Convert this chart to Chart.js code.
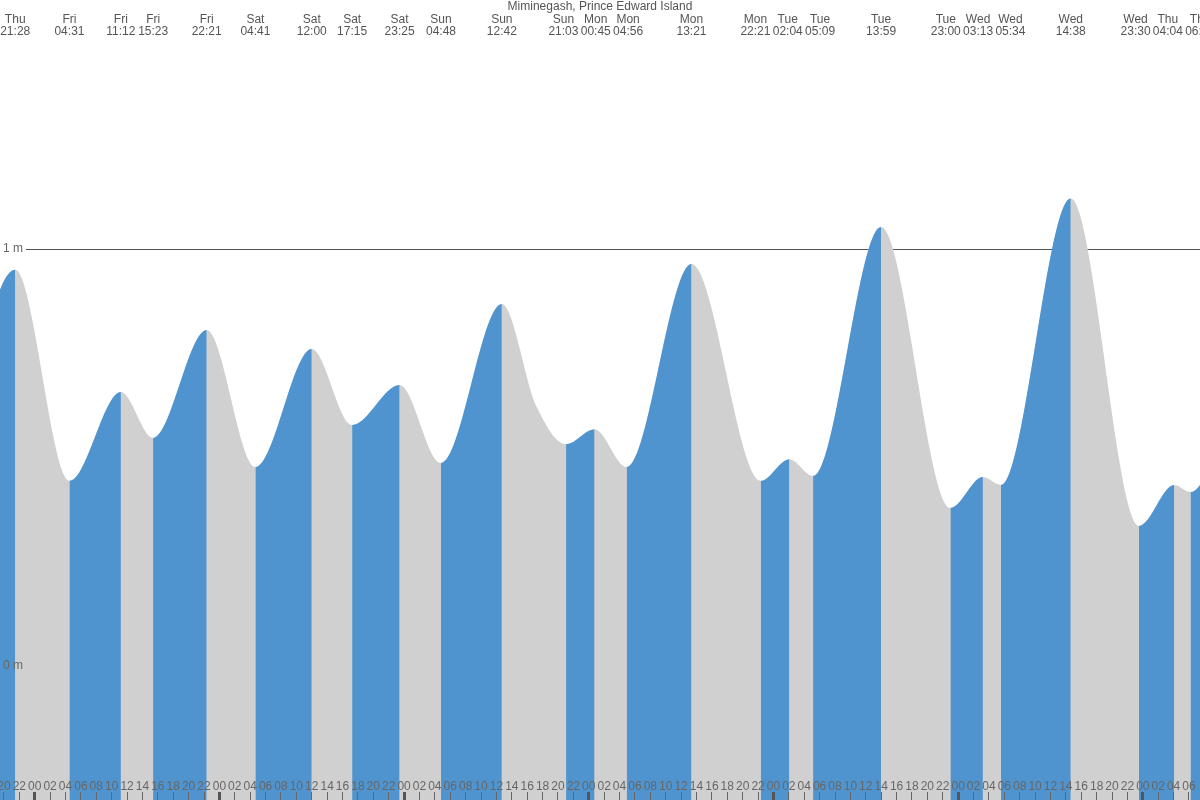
<!DOCTYPE html>
<html>
<head>
<meta charset="utf-8">
<title>Miminegash, Prince Edward Island</title>
<script src="https://cdn.jsdelivr.net/npm/chart.js@4/dist/chart.umd.min.js"></script>
<style>
  html, body { margin: 0; padding: 0; background: #fff; }
  #wrap { width: 1200px; height: 800px; }
</style>
</head>
<body>
<div id="wrap"><canvas id="tideChart" width="1200" height="800"></canvas></div>
<script>
// 高低潮时刻（顶部标注），首尾各多一个画面外的点让曲线延伸到边缘
const TIDE_TIMES = [
  'Thu 12:30', 'Thu 21:28', 'Fri 04:31', 'Fri 11:12', 'Fri 15:23', 'Fri 22:21',
  'Sat 04:41', 'Sat 12:00', 'Sat 17:15', 'Sat 23:25', 'Sun 04:48', 'Sun 12:42',
  'Sun 21:03', 'Mon 00:45', 'Mon 04:56', 'Mon 13:21', 'Mon 22:21', 'Tue 02:04',
  'Tue 05:09', 'Tue 13:59', 'Tue 23:00', 'Wed 03:13', 'Wed 05:34', 'Wed 14:38',
  'Wed 23:30', 'Thu 04:04', 'Thu 06:12', 'Thu 13:30'
];
// 潮高（米）
const TIDE_LEVELS = [
  0.40, 0.95, 0.444, 0.657, 0.547, 0.806,
  0.477, 0.760, 0.578, 0.674, 0.487, 0.868,
  0.532, 0.568, 0.477, 0.964, 0.444, 0.496,
  0.456, 1.053, 0.379, 0.453, 0.434, 1.121,
  0.336, 0.434, 0.417, 0.75
];
// 曲线上额外读取的点（周日下午落潮较快）
const SHAPE_TIMES = ['Sun 17:14'];
const SHAPE_LEVELS = [0.622];

// 可见范围：以周五 00:00 为 0 的小时数
const VIEW_START = -4.51;
const VIEW_END = 151.43;
// 纵轴范围（米）与刻度
const Y_MIN = -0.3213;
const Y_MAX = 1.5079;
const Y_TICKS = [0, 1];
const HOUR_STEP = 2;
// 顶部标注之间的最小间隔（小时），太挤时左右推开
const LABEL_GAP = 4.2;

const RISE = '#4f94cf';   // 涨潮
const FALL = '#d0d0d0';   // 落潮

Chart.defaults.font.family = '"Liberation Sans", Arial, sans-serif';
Chart.defaults.font.size = 12;

// 把 'Fri 04:31' 这样的标签换算成小时数
function tideHours(labels) {
  let day = -1, prev = null;
  return labels.map(s => {
    const [name, hm] = s.split(' ');
    if (name !== prev) { if (prev !== null) day++; prev = name; }
    const [h, m] = hm.split(':').map(Number);
    return day * 24 + h + m / 60;
  });
}

// 相邻标注靠得太近就对称推开
function spreadLabels(hours, gap) {
  const pos = hours.slice();
  for (let k = 0; k < 200; k++) {
    let moved = false;
    for (let i = 1; i < pos.length; i++) {
      const d = pos[i] - pos[i - 1];
      if (d < gap - 1e-4) {
        const push = (gap - d) / 2;
        pos[i - 1] -= push;
        pos[i] += push;
        moved = true;
      }
    }
    if (!moved) break;
  }
  return pos;
}

const tideHrs = tideHours(TIDE_TIMES);
const dayBase = {};
TIDE_TIMES.forEach((s, i) => {
  const name = s.split(' ')[0];
  if (!(name in dayBase)) dayBase[name] = Math.floor(tideHrs[i] / 24) * 24;
});
const shapeHrs = SHAPE_TIMES.map(s => {
  const [name, hm] = s.split(' ');
  const [h, m] = hm.split(':').map(Number);
  return dayBase[name] + h + m / 60;
});

const points = tideHrs.map((x, i) => ({ x, y: TIDE_LEVELS[i] }))
  .concat(shapeHrs.map((x, i) => ({ x, y: SHAPE_LEVELS[i] })))
  .sort((a, b) => a.x - b.x);

// 顶部只标注可见范围内的高低潮
const headerIdx = tideHrs.map((h, i) => i).filter(i => tideHrs[i] >= VIEW_START && tideHrs[i] <= VIEW_END);
const headerPos = spreadLabels(headerIdx.map(i => tideHrs[i]), LABEL_GAP);
const headerText = headerIdx.map(i => TIDE_TIMES[i].split(' '));

function noSidePadding(scale) {
  scale.paddingLeft = 0;
  scale.paddingRight = 0;
  scale.paddingTop = 0;
  scale.paddingBottom = 0;
}

const baseSeries = {
  data: points,
  xAxisID: 'x',
  yAxisID: 'y',
  fill: 'start',
  borderWidth: 0,
  pointRadius: 0,
  cubicInterpolationMode: 'monotone'
};

new Chart(document.getElementById('tideChart'), {
  type: 'line',
  data: {
    datasets: [
      // 涨潮段（蓝），画在上层
      Object.assign({}, baseSeries, {
        order: 1,
        backgroundColor: RISE,
        segment: {
          backgroundColor: ctx => ctx.p1.parsed.y > ctx.p0.parsed.y ? RISE : 'rgba(0,0,0,0)'
        }
      }),
      // 整条曲线下方先铺灰色
      Object.assign({}, baseSeries, { order: 2, backgroundColor: FALL })
    ]
  },
  options: {
    responsive: false,
    devicePixelRatio: 1,
    animation: false,
    events: [],
    layout: { padding: 0 },
    elements: { line: { capBezierPoints: false } },
    plugins: {
      legend: { display: false },
      tooltip: { enabled: false },
      title: {
        display: true,
        text: 'Miminegash, Prince Edward Island',
        color: '#555',
        font: { size: 12, weight: 'normal', lineHeight: 1.1 },
        padding: 0
      }
    },
    scales: {
      x: {
        type: 'linear',
        position: 'bottom',
        min: VIEW_START,
        max: VIEW_END,
        border: { display: false },
        grid: {
          z: 1,
          drawOnChartArea: false,
          drawTicks: true,
          tickLength: -8,
          tickWidth: ctx => (ctx.tick && ctx.tick.value % 24 === 0) ? 3 : 1,
          tickColor: ctx => (ctx.tick && ctx.tick.value % 24 === 0) ? '#555' : '#666'
        },
        ticks: {
          z: 1,
          mirror: true,
          stepSize: HOUR_STEP,
          includeBounds: false,
          autoSkip: false,
          maxRotation: 0,
          minRotation: 0,
          padding: 7,
          color: '#666',
          font: { size: 12, lineHeight: 1 },
          callback: v => String(((v % 24) + 24) % 24).padStart(2, '0')
        },
        afterBuildTicks: s => {
          s.ticks = s.ticks.filter(t => Number.isInteger(t.value) && t.value % HOUR_STEP === 0);
        },
        afterFit: s => { s.height = 0; noSidePadding(s); }
      },
      xTop: {
        type: 'linear',
        axis: 'x',
        position: 'top',
        min: VIEW_START,
        max: VIEW_END,
        border: { display: false },
        grid: { display: false },
        ticks: {
          mirror: true,
          autoSkip: false,
          maxRotation: 0,
          minRotation: 0,
          padding: -36,
          color: '#555',
          font: { size: 12, lineHeight: 1 },
          callback: (v, i) => headerText[i] || ''
        },
        afterBuildTicks: s => { s.ticks = headerPos.map(value => ({ value })); },
        afterFit: s => { s.height = 24; noSidePadding(s); }
      },
      y: {
        type: 'linear',
        position: 'left',
        min: Y_MIN,
        max: Y_MAX,
        border: { display: false },
        grid: {
          drawTicks: false,
          lineWidth: 1,
          color: ctx => (ctx.tick && ctx.tick.value === 1) ? '#555' : 'rgba(0,0,0,0)'
        },
        ticks: {
          z: 1,
          mirror: true,
          padding: 3,
          color: '#666',
          font: { size: 12 },
          showLabelBackdrop: ctx => !!(ctx.tick && ctx.tick.value === 1),
          backdropColor: '#fff',
          backdropPadding: { top: 2, bottom: 2, left: 3, right: 3 },
          callback: v => v + ' m'
        },
        afterBuildTicks: s => { s.ticks = Y_TICKS.map(value => ({ value })); },
        afterFit: s => { s.width = 0; noSidePadding(s); }
      }
    }
  }
});
</script>
</body>
</html>
